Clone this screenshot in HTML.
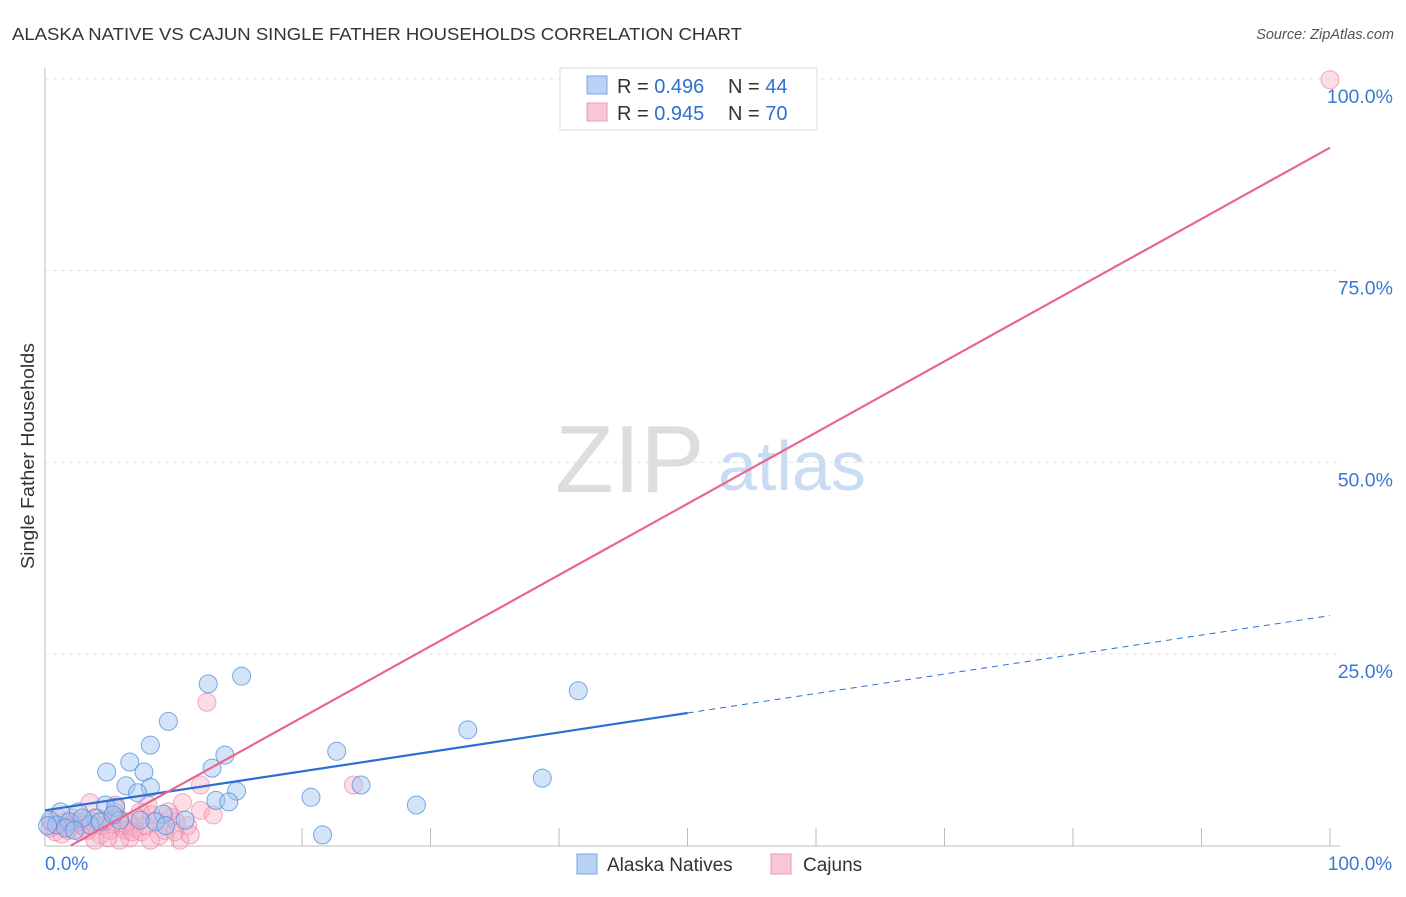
<!DOCTYPE html>
<html><head><meta charset="utf-8"><style>
body{margin:0;background:#fff;font-family:"Liberation Sans",sans-serif;}
svg text{font-family:"Liberation Sans",sans-serif;}
</style></head><body>
<svg id="chart" width="1406" height="892">
<text x="12" y="40" font-size="17.5" fill="#333" textLength="730" lengthAdjust="spacingAndGlyphs">ALASKA NATIVE VS CAJUN SINGLE FATHER HOUSEHOLDS CORRELATION CHART</text>
<text x="1394" y="39" font-size="14.5" fill="#555" font-style="italic" text-anchor="end">Source: ZipAtlas.com</text>
<text transform="translate(34,456) rotate(-90)" font-size="18" fill="#333" text-anchor="middle" textLength="226" lengthAdjust="spacingAndGlyphs">Single Father Households</text>
<g id="grid"></g>
<text x="555" y="492" font-size="96" fill="#ddd" font-family="Liberation Serif">ZIP</text>
<text x="718" y="490" font-size="70" fill="#c9dcf2">atlas</text>
<g id="pts"></g>
<g id="lines"></g>
<g>
<rect x="560" y="68" width="257" height="62" fill="#fff" stroke="#ddd"/>
<rect x="587" y="76" width="20" height="18" fill="#b8d3f3" stroke="#7aa6e0"/>
<text x="617" y="93" font-size="20" fill="#333">R = <tspan fill="#2f6fd1">0.496</tspan></text>
<text x="728" y="93" font-size="20" fill="#333">N = <tspan fill="#2f6fd1">44</tspan></text>
<rect x="587" y="103" width="20" height="18" fill="#f9c8d6" stroke="#ef9ab2"/>
<text x="617" y="120" font-size="20" fill="#333">R = <tspan fill="#2f6fd1">0.945</tspan></text>
<text x="728" y="120" font-size="20" fill="#333">N = <tspan fill="#2f6fd1">70</tspan></text>
</g>
<g>
<rect x="577" y="854" width="20" height="20" fill="#b8d3f3" stroke="#7aa6e0"/>
<text x="607" y="871" font-size="19" fill="#333">Alaska Natives</text>
<rect x="771" y="854" width="20" height="20" fill="#f9c8d6" stroke="#ef9ab2"/>
<text x="803" y="871" font-size="19" fill="#333">Cajuns</text>
</g>
</svg>
<script>
const yTicks=[25,50,75,100];
const yTickLabels=["25.0%","50.0%","75.0%","100.0%"];
const xTickLabels=["0.0%","100.0%"];
const blueX=[12.7,15.3,41.5,9.6,32.9,8.2,14.0,22.7,6.6,4.8,7.7,13.0,38.7,24.6,6.3,8.2,7.2,14.9,13.3,14.3,20.7,28.9,4.7,5.5,1.2,2.6,9.2,10.9,21.6,8.6,9.4,0.4,0.9,1.9,3.9,5.8,3.5,1.6,0.2,2.9,4.3,5.3,2.3,7.4];
const blueY=[21.1,22.1,20.2,16.2,15.1,13.1,11.8,12.3,10.9,9.6,9.6,10.1,8.8,7.9,7.8,7.6,6.9,7.1,5.9,5.7,6.3,5.3,5.3,5.0,4.4,4.4,4.1,3.3,1.4,3.1,2.6,3.3,2.7,3.1,3.6,3.3,2.7,2.3,2.6,3.6,3.1,4.0,2.0,3.3];
const pinkX=[100,12.6,24.0,12.1,3.5,5.5,10.7,8.0,12.1,13.1,9.8,10.2,11.1,8.6,7.4,6.2,5.1,4.3,6.6,8.9,10.5,3.9,0.8,1.2,1.6,1.9,2.3,2.7,3.1,0.4,0.5,1.0,1.3,1.8,2.1,2.6,2.9,3.3,3.7,4.1,4.4,4.7,5.2,5.7,6.0,6.5,7.0,7.5,8.2,9.3,5.8,4.9,7.8,8.3,9.6,10.1,11.3,7.2,6.8,5.4];
const pinkY=[99.9,18.7,7.9,7.9,5.6,5.3,5.6,5.3,4.6,4.0,3.7,3.1,2.6,3.3,4.4,2.0,2.0,1.4,1.0,1.3,0.7,0.7,1.8,2.6,3.1,2.3,2.7,1.8,3.3,2.3,3.1,3.6,1.5,2.0,3.6,3.1,2.6,2.0,3.1,3.6,2.6,3.3,2.8,3.6,2.6,3.1,2.3,1.8,0.7,2.0,0.7,1.0,2.6,4.0,4.4,1.8,1.4,3.6,1.8,4.4];
const blueFit=[4.6,0.254];
const pinkFit=[-1.86,0.929];
const NS="http://www.w3.org/2000/svg";
const sx=v=>45+v*12.85, sy=v=>845.6-v*7.666;
function mk(t,a,p){const e=document.createElementNS(NS,t);for(const k in a)e.setAttribute(k,a[k]);p.appendChild(e);return e;}
const grid=document.getElementById('grid');
mk('line',{x1:45,y1:68,x2:45,y2:846,stroke:'#bbb'},grid);
mk('line',{x1:45,y1:846,x2:1340,y2:846,stroke:'#bbb'},grid);
yTicks.forEach((t,i)=>{
 const l=mk('line',{x1:45,y1:sy(t),x2:1340,y2:sy(t),stroke:'#e2e2e2','stroke-dasharray':'4,4'},grid);
 
 
 const tx=mk('text',{x:1393,y:sy(t)+24,'font-size':19.5,fill:'#3b78d6','text-anchor':'end'},grid);
 tx.textContent=yTickLabels[i];
 
 
});
for(let i=1;i<=10;i++){const l=mk('line',{x1:sx(i*10),y1:828,x2:sx(i*10),y2:846,stroke:'#bbb'},grid);
 
 }
[[0,'start'],[100,'middle']].forEach((d,i)=>{const tx=mk('text',{x:i?1360:45,y:870,'font-size':19,fill:'#3b78d6','text-anchor':d[1]},grid);tx.textContent=xTickLabels[i];
 
 });
const pts=document.getElementById('pts');
pinkX.forEach((x,i)=>{const c=mk('circle',{cx:sx(x),cy:sy(pinkY[i]),r:9,fill:'rgba(246,170,195,0.4)',stroke:'rgba(236,120,155,0.6)'},pts);
 
 });
blueX.forEach((x,i)=>{const c=mk('circle',{cx:sx(x),cy:sy(blueY[i]),r:9,fill:'rgba(160,195,240,0.45)',stroke:'rgba(80,140,220,0.75)'},pts);
 
 });
const lines=document.getElementById('lines');
let b=mk('line',{x1:sx(0),y1:sy(blueFit[0]),x2:sx(50),y2:sy(blueFit[0]+50*blueFit[1]),stroke:'#2a6fd4','stroke-width':2.2},lines);


let bd=mk('line',{x1:sx(50),y1:sy(blueFit[0]+50*blueFit[1]),x2:sx(100),y2:sy(blueFit[0]+100*blueFit[1]),stroke:'#2a6fd4','stroke-width':1,'stroke-dasharray':'6,5'},lines);


const px0=-pinkFit[0]/pinkFit[1];
let p=mk('line',{x1:sx(px0),y1:sy(0),x2:sx(100),y2:sy(pinkFit[0]+100*pinkFit[1]),stroke:'#e8668f','stroke-width':2.2},lines);


</script>
</body></html>
